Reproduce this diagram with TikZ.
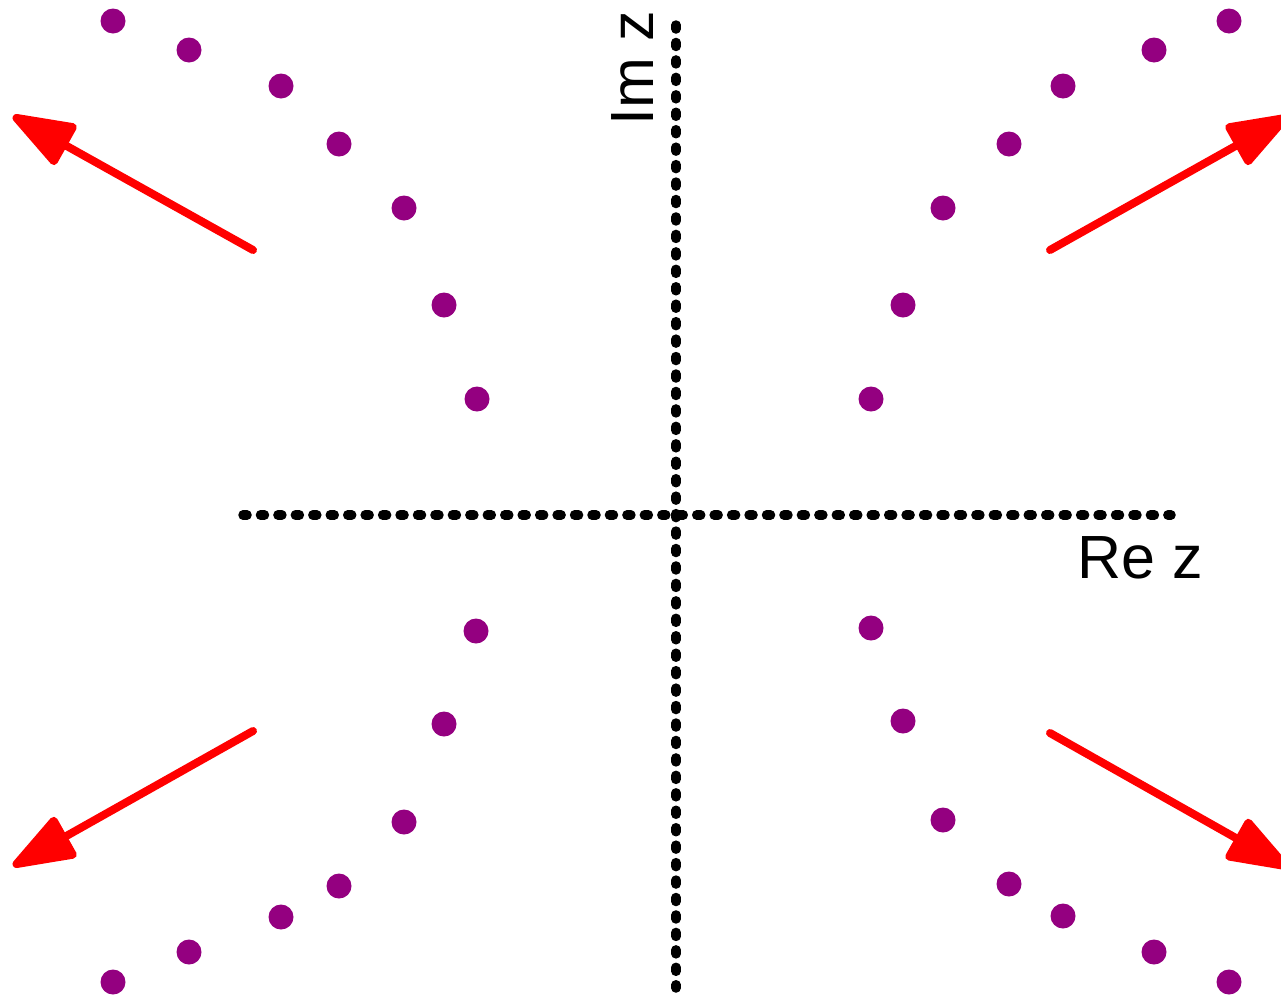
\documentclass[tikz,border=0pt]{standalone}
\usepackage{fontspec}
\setmainfont{Liberation Sans}
\usetikzlibrary{arrows.meta}
\definecolor{dotpurple}{RGB}{148,0,128}
\definecolor{arrred}{RGB}{255,0,0}
\begin{document}
\begin{tikzpicture}[x=1pt,y=-1pt,
 axis/.style={line width=9.5pt, line cap=round, dash pattern=on 4pt off 13.45pt},
 pt/.style={circle, fill=dotpurple, inner sep=0pt, minimum size=25pt},
 flow/.style={arrred, line width=8pt, line cap=round, line join=round, -{Triangle[length=70pt,width=48pt,round]}},
 lab/.style={font=\fontsize{61}{61}\selectfont, inner sep=0pt}]
\useasboundingbox (0,0) rectangle (1281,994);
\clip (0,0) rectangle (1281,994);
% axes
\coordinate (xL) at (243,515);
\coordinate (xR) at (1171,515);
\coordinate (yT) at (676,25);
\coordinate (yB) at (676,988);
\draw[axis] (xL) -- (xR);
\draw[axis] (yT) -- (yB);
\node[lab, anchor=base west] (re) at (1077,578) {Re z};
\node[lab, anchor=base west, rotate=90] (im) at (653,126) {Im z};
% dots
\foreach \x/\y [count=\i] in {113/21,189/50,281/86,339/144,404/208,444/305,477/399}
  \node[pt] (ul\i) at (\x,\y) {};
\foreach \x/\y [count=\i] in {1229/21,1154/50,1063/86,1009/144,943/208,903/305,871/399}
  \node[pt] (ur\i) at (\x,\y) {};
\foreach \x/\y [count=\i] in {476/631,444/724,404/822,339/886,281/917,189/952,113/982}
  \node[pt] (ll\i) at (\x,\y) {};
\foreach \x/\y [count=\i] in {871/628,903/721,943/820,1009/884,1063/916,1154/952,1229/982}
  \node[pt] (lr\i) at (\x,\y) {};
% arrows
\coordinate (ulS) at (253,250);
\coordinate (ulT) at (13,116);
\coordinate (urS) at (1050,250);
\coordinate (urT) at (1289,116);
\coordinate (llS) at (253,731);
\coordinate (llT) at (13,866);
\coordinate (lrS) at (1050,733);
\coordinate (lrT) at (1289,868);
\draw[flow] (ulS) -- (ulT);
\draw[flow] (urS) -- (urT);
\draw[flow] (llS) -- (llT);
\draw[flow] (lrS) -- (lrT);
\end{tikzpicture}
\end{document}
